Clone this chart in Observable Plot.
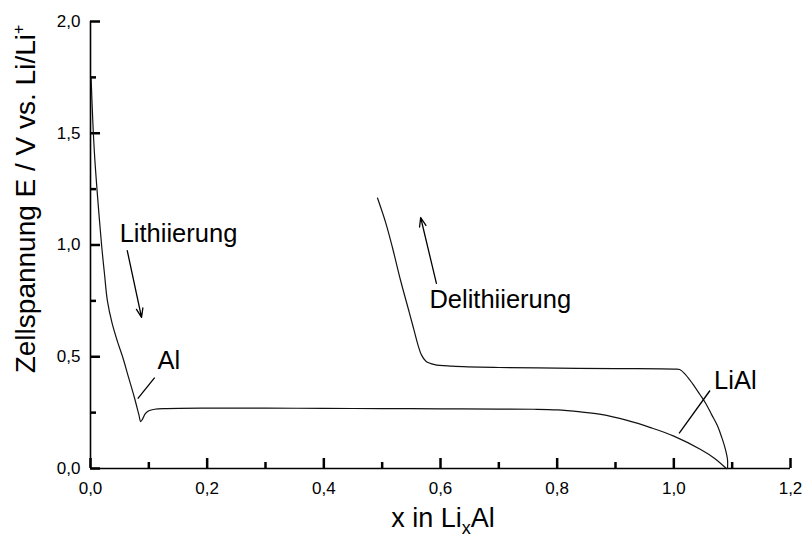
<!DOCTYPE html>
<html><head><meta charset="utf-8">
<script src="https://cdn.jsdelivr.net/npm/d3@7"></script>
<script src="https://cdn.jsdelivr.net/npm/@observablehq/plot@0.6"></script>
<style>
body{margin:0;background:#fff}
#chart svg{display:block}
</style>
</head><body><div id="chart"></div>
<script>
// Lithiation (discharge) curve: x in LixAl, cell voltage (V)
const lithX = [0.001,0.004,0.007,0.012,0.019,0.024,0.029,0.037,0.046,0.055,0.065,0.075,0.083,0.086,0.089,0.094,0.100,0.110,0.130,0.2,0.3,0.4,0.5,0.6,0.7,0.76,0.80,0.84,0.875,0.92,0.96,1.0,1.046,1.07,1.09];
const lithY = [1.75,1.55,1.40,1.22,1.00,0.87,0.75,0.65,0.57,0.50,0.41,0.32,0.24,0.21,0.22,0.245,0.258,0.265,0.268,0.27,0.27,0.269,0.268,0.267,0.266,0.265,0.262,0.253,0.242,0.215,0.183,0.145,0.085,0.045,0.0];
// Delithiation (charge) curve
const delithX = [1.092,1.092,1.088,1.082,1.075,1.065,1.055,1.045,1.032,1.020,1.010,1.0,0.9,0.8,0.7,0.62,0.59,0.575,0.567,0.5617,0.5545,0.5463,0.5317,0.5175,0.506,0.492];
const delithY = [0.0,0.04,0.09,0.14,0.19,0.24,0.29,0.33,0.38,0.42,0.443,0.445,0.447,0.449,0.452,0.458,0.465,0.48,0.51,0.55,0.62,0.70,0.84,0.99,1.10,1.21];

const xMajor = [0,0.2,0.4,0.6,0.8,1.0,1.2];
const xMinor = [0.1,0.3,0.5,0.7,0.9,1.1];
const yMajor = [0,0.5,1.0,1.5,2.0];
const yMinor = [0.25,0.75,1.25,1.75];

const labelText = ["Lithiierung","Al","Delithiierung","LiAl"];
const labelX = [0.050,0.115,0.581,1.069];
const labelY = [1.051,0.483,0.756,0.394];

const arrowX1 = [0.063,0.593];
const arrowY1 = [0.975,0.828];
const arrowX2 = [0.0875,0.566];
const arrowY2 = [0.676,1.123];

const leaderX1 = [0.110,1.062];
const leaderY1 = [0.407,0.349];
const leaderX2 = [0.081,1.009];
const leaderY2 = [0.313,0.157];

const lith = lithX.map((x,i)=>({x, y: lithY[i]}));
const delith = delithX.map((x,i)=>({x, y: delithY[i]}));
const labels = labelText.map((t,i)=>({t, x: labelX[i], y: labelY[i]}));
const arrows = arrowX1.map((x1,i)=>({x1, y1: arrowY1[i], x2: arrowX2[i], y2: arrowY2[i]}));
const leaders = leaderX1.map((x1,i)=>({x1, y1: leaderY1[i], x2: leaderX2[i], y2: leaderY2[i]}));

const fmt = d => d.toFixed(1).replace(".", ",");
const FONT = "'Liberation Sans', Arial, Helvetica, sans-serif";

const W = 803, H = 539, ML = 90, MR = 13, MT = 21, MB = 71;
const frameW = W - ML - MR, frameH = H - MT - MB;
const majorLen = 10, minorLen = 6;

const plot = Plot.plot({
  width: W, height: H,
  marginLeft: ML, marginRight: MR, marginTop: MT, marginBottom: MB,
  style: {fontFamily: FONT, background: "#fff", color: "#000"},
  x: {domain: [0, 1.2], axis: null},
  y: {domain: [0, 2.0], axis: null},
  marks: [
    Plot.axisX(xMajor, {tickSize: 0, tickPadding: 13, tickFormat: fmt, fontSize: 17, label: null}),
    Plot.axisY(yMajor, {tickSize: 0, tickPadding: 10, tickFormat: fmt, fontSize: 17, label: null}),
    Plot.ruleX([0], {y1: 0, y2: 2.0, stroke: "#000", strokeWidth: 1.6}),
    Plot.ruleY([0], {x1: 0, x2: 1.2, stroke: "#000", strokeWidth: 1.6}),
    // inward tick marks (major and minor)
    Plot.tickX(xMajor, {x: d=>d, insetTop: frameH - majorLen, stroke: "#000", strokeWidth: 2.5}),
    Plot.tickX(xMinor, {x: d=>d, insetTop: frameH - minorLen, stroke: "#000", strokeWidth: 2.5}),
    Plot.tickY(yMajor, {y: d=>d, insetRight: frameW - majorLen, stroke: "#000", strokeWidth: 2.5}),
    Plot.tickY(yMinor, {y: d=>d, insetRight: frameW - minorLen, stroke: "#000", strokeWidth: 2.5}),
    Plot.line(lith, {x: "x", y: "y", stroke: "#111", strokeWidth: 1.2, curve: "catmull-rom"}),
    Plot.line(delith, {x: "x", y: "y", stroke: "#111", strokeWidth: 1.2, curve: "catmull-rom"}),
    Plot.arrow(arrows, {x1: "x1", y1: "y1", x2: "x2", y2: "y2", stroke: "#000", strokeWidth: 1.3, headLength: 11, headAngle: 40}),
    Plot.link(leaders, {x1: "x1", y1: "y1", x2: "x2", y2: "y2", stroke: "#000", strokeWidth: 1.3}),
    Plot.text(labels, {x: "x", y: "y", text: "t", textAnchor: "start", lineAnchor: "middle", fontSize: 25.5, fill: "#000"})
  ]
});

document.getElementById("chart").appendChild(plot);

const svg = d3.select(plot);
// x axis title with subscript
const xt = svg.append("text")
  .attr("x", 443).attr("y", 527)
  .attr("text-anchor", "middle")
  .attr("font-family", FONT).attr("font-size", 27).attr("fill", "#000");
xt.append("tspan").text("x in Li");
xt.append("tspan").attr("font-size", 18).attr("dy", 7).text("x");
xt.append("tspan").attr("dy", -7).text("Al");

// y axis title with superscript
const yt = svg.append("text")
  .attr("transform", "translate(35,199) rotate(-90)")
  .attr("text-anchor", "middle")
  .attr("font-family", FONT).attr("font-size", 28).attr("fill", "#000");
yt.append("tspan").text("Zellspannung E / V vs. Li/Li");
yt.append("tspan").attr("font-size", 16).attr("dy", -11).text("+");
</script>
</body></html>
